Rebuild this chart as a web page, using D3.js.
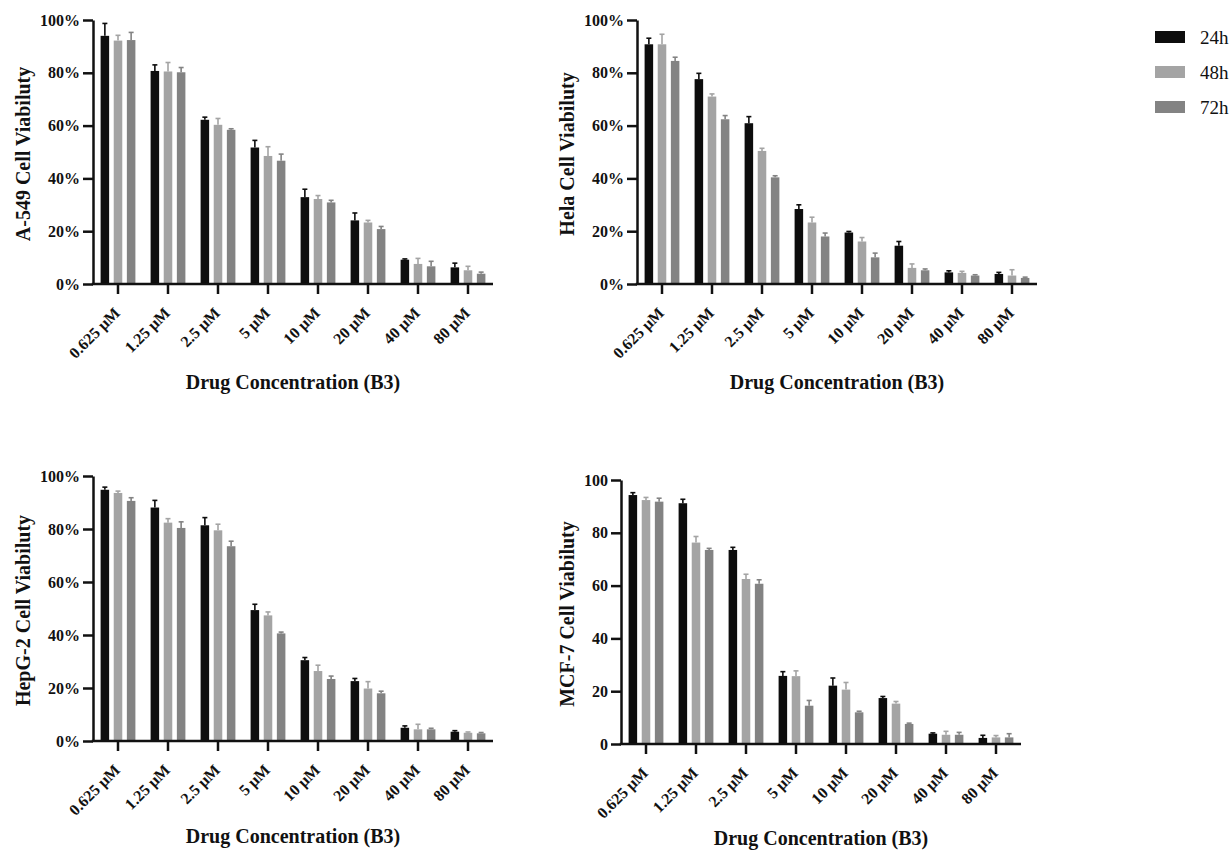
<!DOCTYPE html>
<html>
<head>
<meta charset="utf-8">
<script src="https://cdn.jsdelivr.net/npm/d3@7"></script>
<style>
  body { margin: 0; background: #fff; }
  svg text { font-family: "Liberation Serif", "Times New Roman", serif; fill: #111; }
</style>
</head>
<body>
<div id="chart"></div>
<script>
// drug concentrations and time points
const concentrations = ["0.625 μM", "1.25 μM", "2.5 μM", "5 μM", "10 μM", "20 μM", "40 μM", "80 μM"];
const timepoints = ["24h", "48h", "72h"];
const yTicks = [0, 20, 40, 60, 80, 100];

// A-549 viability (%) and error
const a549_24 = [94.0, 80.7, 62.2, 51.7, 32.9, 24.1, 9.2, 6.3];
const a549_48 = [92.2, 80.5, 60.3, 48.5, 32.2, 23.3, 7.6, 5.2];
const a549_72 = [92.4, 80.2, 58.4, 46.7, 30.9, 20.8, 6.7, 3.9];
const a549_24_err = [4.7, 2.3, 1.0, 2.7, 3.0, 2.8, 0.3, 1.6];
const a549_48_err = [2.0, 3.4, 2.4, 3.5, 1.3, 0.8, 2.1, 1.5];
const a549_72_err = [2.9, 1.8, 0.4, 2.5, 0.8, 1.0, 1.9, 0.6];

// Hela
const hela_24 = [90.8, 77.6, 60.9, 28.4, 19.5, 14.5, 4.4, 3.8];
const hela_48 = [90.8, 71.0, 50.4, 23.3, 16.1, 6.1, 4.2, 3.2];
const hela_72 = [84.5, 62.4, 40.4, 18.0, 10.1, 5.2, 3.2, 2.3];
const hela_24_err = [2.3, 2.2, 2.5, 1.6, 0.4, 1.6, 0.6, 0.6];
const hela_48_err = [3.8, 1.0, 1.0, 2.0, 1.5, 1.5, 0.6, 2.2];
const hela_72_err = [1.4, 1.4, 0.6, 1.3, 1.6, 0.5, 0.3, 0.3];

// HepG-2
const hepg2_24 = [94.8, 88.1, 81.4, 49.4, 30.5, 22.6, 5.0, 3.5];
const hepg2_48 = [93.6, 82.4, 79.5, 47.4, 26.4, 19.8, 4.4, 3.1];
const hepg2_72 = [90.6, 80.4, 73.5, 40.6, 23.4, 18.0, 4.4, 2.9];
const hepg2_24_err = [1.0, 2.7, 2.9, 2.2, 1.0, 1.0, 0.7, 0.4];
const hepg2_48_err = [0.7, 1.5, 2.3, 1.3, 2.2, 2.6, 1.9, 0.3];
const hepg2_72_err = [1.2, 2.3, 1.9, 0.5, 1.1, 0.8, 0.4, 0.3];

// MCF-7
const mcf7_24 = [94.3, 91.2, 73.5, 25.8, 22.1, 17.4, 3.9, 2.3];
const mcf7_48 = [92.4, 76.3, 62.5, 25.7, 20.6, 15.3, 3.5, 2.5];
const mcf7_72 = [91.8, 73.5, 60.7, 14.5, 12.0, 7.6, 3.5, 2.5];
const mcf7_24_err = [0.9, 1.5, 1.0, 1.6, 2.9, 0.6, 0.3, 1.0];
const mcf7_48_err = [1.0, 2.3, 1.8, 2.0, 2.7, 0.8, 1.3, 0.7];
const mcf7_72_err = [1.3, 0.6, 1.5, 2.0, 0.4, 0.3, 0.9, 1.4];

const colors = ["#0d0d0d", "#a4a4a4", "#838383"];

const svg = d3.select("#chart").append("svg")
    .attr("width", 1230)
    .attr("height", 853);

// panel placement
const panels = [
    { label: "A-549 Cell Viabiluty", means: [a549_24, a549_48, a549_72], errs: [a549_24_err, a549_48_err, a549_72_err], pct: true, x0: 93, y0: 20, y1: 284, labelX: 23, titleDy: 105 },
    { label: "Hela Cell Viabiluty", means: [hela_24, hela_48, hela_72], errs: [hela_24_err, hela_48_err, hela_72_err], pct: true, x0: 637, y0: 20, y1: 284, labelX: 567, titleDy: 105 },
    { label: "HepG-2 Cell Viabiluty", means: [hepg2_24, hepg2_48, hepg2_72], errs: [hepg2_24_err, hepg2_48_err, hepg2_72_err], pct: true, x0: 93, y0: 476, y1: 741, labelX: 23, titleDy: 102 },
    { label: "MCF-7 Cell Viabiluty", means: [mcf7_24, mcf7_48, mcf7_72], errs: [mcf7_24_err, mcf7_48_err, mcf7_72_err], pct: false, x0: 621, y0: 480, y1: 744, labelX: 567, titleDy: 101 }
];

panels.forEach(drawPanel);

function drawPanel(p) {
    const g = svg.append("g");
    const x = d3.scaleBand().domain(concentrations).range([p.x0, p.x0 + 400]);
    const y = d3.scaleLinear().domain([0, 100]).range([p.y1, p.y0]);
    const sub = d3.scaleBand().domain(timepoints).range([-22, 22]).padding(0.35);

    // bars + upper error whiskers
    timepoints.forEach((t, i) => {
        const rows = concentrations.map((c, j) => ({ c: c, v: p.means[i][j], e: p.errs[i][j] }));
        const sg = g.append("g");
        sg.selectAll("rect").data(rows).enter().append("rect")
            .attr("x", d => x(d.c) + x.bandwidth() / 2 + sub(t))
            .attr("y", d => y(d.v))
            .attr("width", sub.bandwidth())
            .attr("height", d => y(0) - y(d.v))
            .attr("fill", colors[i]);
        const cx = d => x(d.c) + x.bandwidth() / 2 + sub(t) + sub.bandwidth() / 2;
        sg.selectAll("line.err").data(rows).enter().append("line")
            .attr("x1", cx).attr("x2", cx)
            .attr("y1", d => y(d.v)).attr("y2", d => y(d.v + d.e))
            .attr("stroke", colors[i]).attr("stroke-width", 1.6);
        sg.selectAll("line.cap").data(rows).enter().append("line")
            .attr("x1", d => cx(d) - 2.5).attr("x2", d => cx(d) + 2.5)
            .attr("y1", d => y(d.v + d.e)).attr("y2", d => y(d.v + d.e))
            .attr("stroke", colors[i]).attr("stroke-width", 1.6);
    });

    // y axis
    const yAxis = g.append("g")
        .attr("transform", `translate(${p.x0},0)`)
        .call(d3.axisLeft(y).tickValues(yTicks).tickSize(10).tickSizeOuter(0).tickPadding(3)
            .tickFormat(d => p.pct ? d + "%" : d));
    yAxis.selectAll("text").attr("font-size", 16).attr("font-weight", "bold");

    // x axis
    const xAxis = g.append("g")
        .attr("transform", `translate(0,${p.y1})`)
        .call(d3.axisBottom(x).tickSize(10).tickSizeOuter(0));
    xAxis.selectAll("text")
        .attr("x", 0).attr("y", 0).attr("dy", 0)
        .attr("text-anchor", "end")
        .attr("transform", "translate(3,30) rotate(-45)")
        .attr("font-size", 16).attr("font-weight", "bold");

    [yAxis, xAxis].forEach(a => {
        a.select(".domain").attr("stroke", "#111").attr("stroke-width", 2.5);
        a.selectAll(".tick line").attr("stroke", "#111").attr("stroke-width", 2.5);
    });
    xAxis.select(".domain").attr("d", `M${p.x0 - 1.25},0H${p.x0 + 400}`);

    // titles
    g.append("text")
        .attr("transform", `translate(${p.labelX},${(p.y0 + p.y1) / 2 + 2}) rotate(-90)`)
        .attr("text-anchor", "middle")
        .attr("dominant-baseline", "central")
        .attr("font-size", 20).attr("font-weight", "bold")
        .text(p.label);
    g.append("text")
        .attr("x", p.x0 + 200)
        .attr("y", p.y1 + p.titleDy)
        .attr("text-anchor", "middle")
        .attr("font-size", 20).attr("font-weight", "bold")
        .text("Drug Concentration (B3)");
}

// legend
const legend = svg.append("g");
timepoints.forEach((t, i) => {
    legend.append("rect")
        .attr("x", 1155).attr("y", 31 + i * 35)
        .attr("width", 30).attr("height", 12)
        .attr("fill", colors[i]);
    legend.append("text")
        .attr("x", 1200).attr("y", 37 + i * 35)
        .attr("dominant-baseline", "central")
        .attr("font-size", 19)
        .text(t);
});
</script>
</body>
</html>
